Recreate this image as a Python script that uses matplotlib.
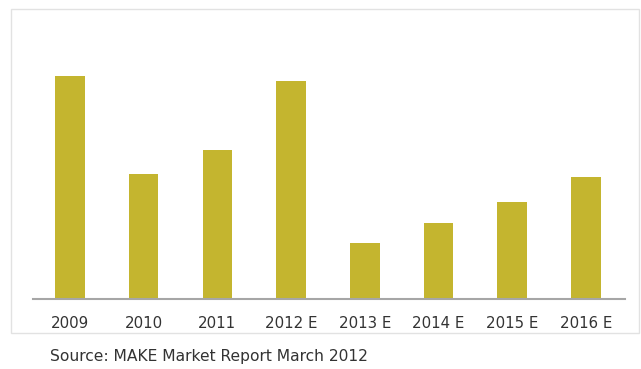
import matplotlib.pyplot as plt
from matplotlib.patches import Rectangle

# Market volume by year (E = estimate), relative units
years = ["2009", "2010", "2011", "2012 E", "2013 E", "2014 E", "2015 E", "2016 E"]
volume = [223, 125, 149, 218, 56, 76, 97, 122]
source = "Source: MAKE Market Report March 2012"

W, H = 641, 369
fig = plt.figure(figsize=(W / 100, H / 100), dpi=100)
fig.patch.set_facecolor("white")

# light frame around the chart area
fig.patches.append(Rectangle((11 / W, (H - 333) / H), 628 / W, 324 / H,
                             transform=fig.transFigure, fill=False,
                             edgecolor="#e2e2e2", linewidth=1.0))

ax = fig.add_axes([33 / W, (H - 299) / H, 592 / W, 279 / H])
ax.bar(range(len(years)), volume, width=0.4, color="#C4B52F")
ax.set_xlim(-0.5, len(years) - 0.47)
ax.set_ylim(0, 279)

for s in ["top", "left", "right"]:
    ax.spines[s].set_visible(False)
ax.spines["bottom"].set_color("#a6a6a6")
ax.spines["bottom"].set_linewidth(1.5)
ax.set_yticks([])
ax.set_xticks(range(len(years)))
ax.set_xticklabels(years, fontsize=10.8, color="#333333")
ax.tick_params(axis="x", length=0, pad=12)

fig.text(50 / W, (H - 357) / H, source, fontsize=11.2, color="#333333",
         va="center", ha="left")

fig.savefig("out.png", dpi=100)
